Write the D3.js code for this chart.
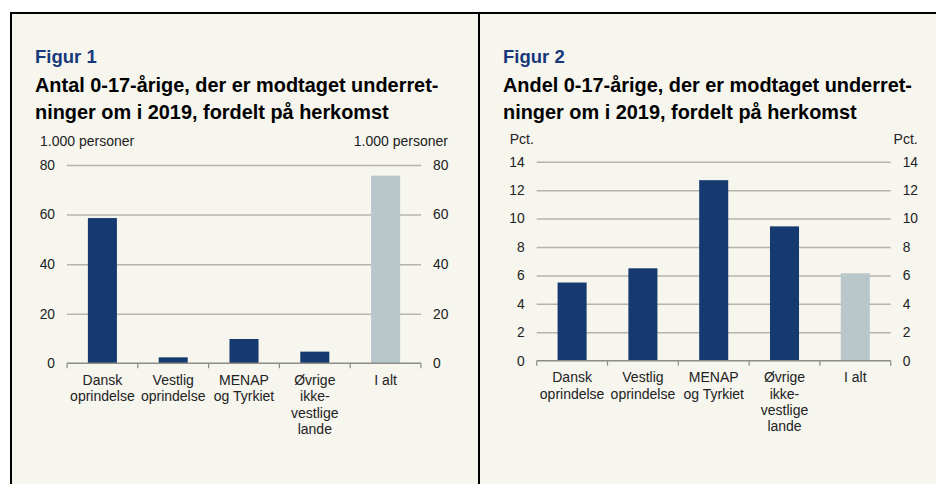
<!DOCTYPE html>
<html>
<head>
<meta charset="utf-8">
<script src="https://cdn.jsdelivr.net/npm/d3@7"></script>
<style>
  body { margin: 0; background: #fff; }
  svg { display: block; font-family: Arial, "Liberation Sans", sans-serif; }
</style>
</head>
<body>
<svg id="chart" width="936" height="484"></svg>
<script>
// data
var categories = [["Dansk", "oprindelse"], ["Vestlig", "oprindelse"], ["MENAP", "og Tyrkiet"], ["Øvrige", "ikke-", "vestlige", "lande"], ["I alt"]];
var antal = [58.6, 2.4, 9.8, 4.7, 75.7];     // 1.000 personer
var andel = [5.5, 6.5, 12.7, 9.45, 6.15];    // pct.
var ticks1 = [0, 20, 40, 60, 80];
var ticks2 = [0, 2, 4, 6, 8, 10, 12, 14];
var titles1 = ["Figur 1", "Antal 0-17-årige, der er modtaget underret-", "ninger om i 2019, fordelt på herkomst", "1.000 personer"];
var titles2 = ["Figur 2", "Andel 0-17-årige, der er modtaget underret-", "ninger om i 2019, fordelt på herkomst", "Pct."];

var navy = "#143a6f", grey = "#b9c6ca", bg = "#f6f5ee";
var svg = d3.select("#chart");

//panel background + black frame lines
svg.append("rect").attr("x", 10).attr("y", 12).attr("width", 926).attr("height", 472).attr("fill", bg);
svg.append("line").attr("x1", 10).attr("x2", 936).attr("y1", 13).attr("y2", 13).attr("stroke", "#000").attr("stroke-width", 2);
svg.append("line").attr("x1", 11).attr("x2", 11).attr("y1", 12).attr("y2", 484).attr("stroke", "#000").attr("stroke-width", 2);
svg.append("line").attr("x1", 479).attr("x2", 479).attr("y1", 12).attr("y2", 484).attr("stroke", "#000").attr("stroke-width", 2);

//-----------------------------------------------------------------------------------
// one bar chart with a left and right value axis
//-----------------------------------------------------------------------------------
const drawChart = function(o) {
  var g = svg.append("g");

  g.append("text").text(o.titles[0]).attr("x", o.tx).attr("y", 62.5)
    .attr("fill", "#17387a").style("font-weight", "bold").style("font-size", "18.5px");
  g.append("text").text(o.titles[1]).attr("x", o.tx).attr("y", 92)
    .attr("fill", "#000").style("font-weight", "bold").style("font-size", "19.9px");
  g.append("text").text(o.titles[2]).attr("x", o.tx).attr("y", 118.5)
    .attr("fill", "#000").style("font-weight", "bold").style("font-size", "19.9px");

  var x = d3.scaleBand().domain(d3.range(o.values.length)).range([o.x0, o.x1]).paddingInner(0).paddingOuter(0);
  var y = d3.scaleLinear().domain([0, o.max]).range([o.y0, o.y1]);

  //unit labels
  g.append("text").text(o.titles[3]).attr("x", o.x0 - 27).attr("y", o.unitY)
    .style("font-size", "14px").attr("fill", "#222");
  g.append("text").text(o.titles[3]).attr("x", o.x1 + 27).attr("y", o.unitY)
    .attr("text-anchor", "end").style("font-size", "14px").attr("fill", "#222");

  //gridlines
  g.append("g").attr("transform", "translate(" + o.x0 + ",0)")
    .call(d3.axisLeft(y).tickValues(o.ticks.slice(1)).tickSize(-(o.x1 - o.x0)).tickFormat(""))
    .call(s => s.select(".domain").remove())
    .call(s => s.selectAll("line").attr("stroke", "#b4b4ac").attr("stroke-width", 1.5));

  //bars
  g.selectAll(".bar").data(o.values).enter().append("rect")
    .attr("x", (d, i) => x(i) + x.bandwidth() * 0.295)
    .attr("width", x.bandwidth() * 0.41)
    .attr("y", d => y(d))
    .attr("height", d => y(0) - y(d))
    .attr("fill", (d, i) => i == o.values.length - 1 ? grey : navy);

  //value axes
  var left = g.append("g").attr("transform", "translate(" + o.x0 + ",0)")
    .call(d3.axisLeft(y).tickValues(o.ticks).tickSize(0).tickPadding(12));
  var right = g.append("g").attr("transform", "translate(" + o.x1 + ",0)")
    .call(d3.axisRight(y).tickValues(o.ticks).tickSize(0).tickPadding(12));
  [left, right].forEach(function(a) {
    a.select(".domain").remove();
    a.selectAll("text").style("font-size", "13.8px").attr("fill", "#222").style("font-family", "Arial, 'Liberation Sans', sans-serif");
  });

  //category axis with ticks between bands
  var bounds = d3.range(o.values.length + 1).map(i => o.x0 + i * x.step());
  g.append("line").attr("x1", o.x0).attr("x2", o.x1).attr("y1", y(0)).attr("y2", y(0))
    .attr("stroke", "#8c8c88").attr("stroke-width", 1.5);
  g.selectAll(".tk").data(bounds).enter().append("line")
    .attr("x1", d => d).attr("x2", d => d).attr("y1", y(0)).attr("y2", y(0) + 5)
    .attr("stroke", "#8c8c88").attr("stroke-width", 1.2);

  var lab = g.selectAll(".cat").data(categories).enter().append("text")
    .attr("text-anchor", "middle").style("font-size", "14px").attr("fill", "#222")
    .attr("transform", (d, i) => "translate(" + (x(i) + x.bandwidth() / 2) + "," + (y(0) + 21.5) + ")");
  lab.selectAll("tspan").data(d => d).enter().append("tspan")
    .attr("x", 0).attr("dy", (d, j) => j == 0 ? 0 : 16.4).text(d => d);
};

drawChart({ values: antal, ticks: ticks1, max: 80, titles: titles1, tx: 35, x0: 67, x1: 421, y0: 363.3, y1: 165, unitY: 146 });
drawChart({ values: andel, ticks: ticks2, max: 14, titles: titles2, tx: 503, x0: 536.7, x1: 890.7, y0: 360.7, y1: 161.7, unitY: 144 });
</script>
</body>
</html>
